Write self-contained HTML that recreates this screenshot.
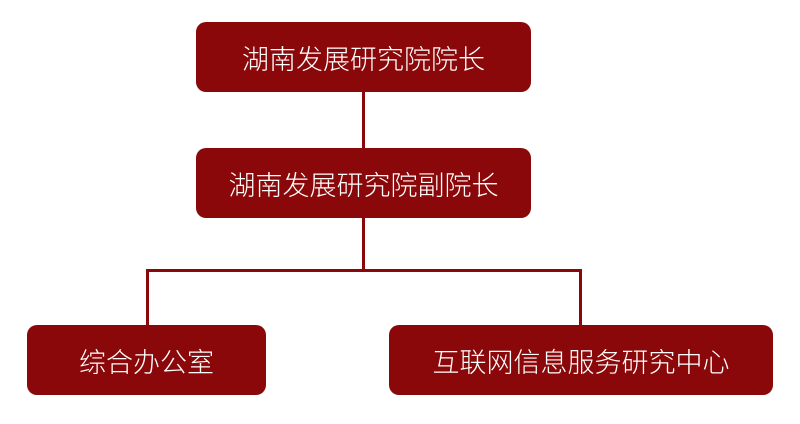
<!DOCTYPE html><html><head><meta charset="utf-8"><style>
body{margin:0;width:800px;height:424px;background:#fff;position:relative;overflow:hidden;font-family:"Liberation Sans","Noto Sans CJK SC",sans-serif}
.b{position:absolute;background:#8a080a;border-radius:10px;color:#fff;font-size:27px;font-weight:300;display:flex;align-items:center;justify-content:center}
.l{position:absolute;background:#8a080a}
</style></head><body>
<div class="l" style="left:362px;top:90px;width:3px;height:60px"></div>
<div class="l" style="left:362px;top:216px;width:3px;height:55px"></div>
<div class="l" style="left:146px;top:269px;width:436px;height:3px"></div>
<div class="l" style="left:146px;top:269px;width:3px;height:58px"></div>
<div class="l" style="left:579px;top:269px;width:3px;height:58px"></div>
<div class="b" style="left:196px;top:22px;width:335px;height:70px">湖南发展研究院院长</div>
<div class="b" style="left:196px;top:148px;width:335px;height:70px">湖南发展研究院副院长</div>
<div class="b" style="left:27px;top:325px;width:239px;height:70px">综合办公室</div>
<div class="b" style="left:389px;top:325px;width:384px;height:70px">互联网信息服务研究中心</div>
</body></html>
